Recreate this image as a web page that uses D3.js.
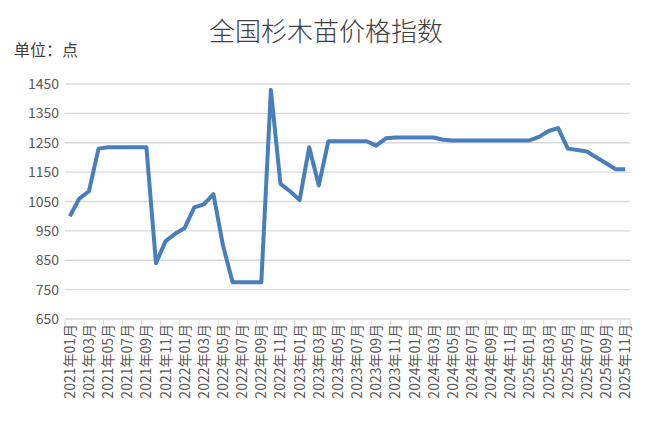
<!DOCTYPE html><html><head><meta charset="utf-8"><script src="https://cdn.jsdelivr.net/npm/d3@7"></script>
<style>body{margin:0;background:#fff}</style></head><body><svg id="c" width="656" height="432"></svg><script>
const months=[];for(let y=2021;y<=2025;y++)for(let m=1;m<=12;m++){if(y==2025&&m>11)break;months.push(y+"年"+String(m).padStart(2,"0")+"月");}
const values=[1000,1060,1085,1230,1235,1235,1235,1235,1235,840,915,940,960,1030,1040,1075,900,775,775,775,775,1430,1110,1085,1055,1235,1105,1255,1255,1255,1255,1255,1240,1265,1268,1268,1268,1268,1268,1260,1258,1258,1258,1258,1258,1258,1258,1258,1258,1270,1290,1300,1230,1225,1220,1200,1180,1160,1160];
const yTicks=[650,750,850,950,1050,1150,1250,1350,1450];
const svg=d3.select("#c");const F="'Noto Sans CJK SC',sans-serif";
const L=65,R=630,T=84,B=319;
const x=d3.scaleBand().domain(months).range([L,R]);
const y=d3.scaleLinear().domain([650,1450]).range([B,T]);
svg.append("g").selectAll("line").data(yTicks).join("line").attr("x1",L).attr("x2",R).attr("y1",d=>y(d)).attr("y2",d=>y(d)).attr("stroke","#d9d9d9").attr("stroke-width",1.3);
svg.append("g").selectAll("text").data(yTicks).join("text").attr("x",L-6).attr("y",d=>y(d)+5).attr("text-anchor","end").attr("font-family",F).attr("font-size",14).attr("fill","#595959").text(d=>d);
const ax=svg.append("g");
months.forEach((m,i)=>{if(i%2==0){ax.append("line").attr("x1",x(m)).attr("x2",x(m)).attr("y1",B).attr("y2",B+6).attr("stroke","#d9d9d9");}});
ax.append("line").attr("x1",R).attr("x2",R).attr("y1",B).attr("y2",B+6).attr("stroke","#d9d9d9");
months.forEach((m,i)=>{if(i%2==0){const cx=x(m)+x.bandwidth()/2;ax.append("text").attr("transform",`translate(${cx+5},${B+5}) rotate(-90)`).attr("text-anchor","end").attr("font-family",F).attr("font-size",14).attr("fill","#595959").text(m);}});
svg.append("path").datum(values).attr("fill","none").attr("stroke","#4a7ebb").attr("stroke-width",4).attr("stroke-linejoin","round")
.attr("d",d3.line().x((d,i)=>x(months[i])+x.bandwidth()/2).y(d=>y(d)));
svg.append("text").attr("x",326).attr("y",41).attr("text-anchor","middle").attr("font-family",F).attr("font-weight",300).attr("font-size",26).attr("fill","#404040").text("全国杉木苗价格指数");
svg.append("text").attr("x",14).attr("y",56).attr("font-family",F).attr("font-size",16).attr("fill","#404040").text("单位：点");
</script></body></html>
